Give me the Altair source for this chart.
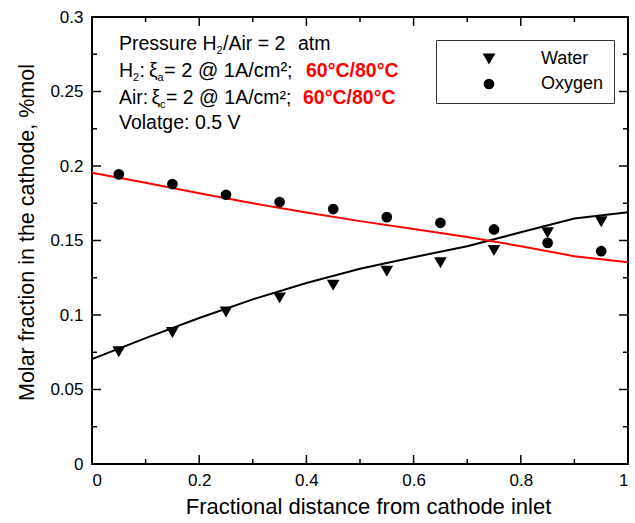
import altair as alt
import pandas as pd

# ---- data ----
x_pts = [0.05, 0.15, 0.25, 0.35, 0.45, 0.55, 0.65, 0.75, 0.85, 0.95]
water = [0.0753, 0.0883, 0.1020, 0.1115, 0.1200, 0.1294, 0.1350, 0.1433, 0.1552, 0.1626]
oxygen = [0.1944, 0.1879, 0.1807, 0.1758, 0.1711, 0.1657, 0.1619, 0.1574, 0.1484, 0.1428]

x_line = [0.0, 0.1, 0.2, 0.3, 0.4, 0.5, 0.6, 0.7, 0.8, 0.9, 1.0]
water_model = [0.0704, 0.0845, 0.0980, 0.1105, 0.1215, 0.1310, 0.1388, 0.1462, 0.1555, 0.1648, 0.1690]
oxygen_model = [0.1955, 0.1888, 0.1817, 0.1750, 0.1688, 0.1630, 0.1577, 0.1524, 0.1462, 0.1395, 0.1354]

x_ticks = [0, 0.2, 0.4, 0.6, 0.8, 1]
y_ticks = [0, 0.05, 0.1, 0.15, 0.2, 0.25, 0.3]
x_major = [0.2, 0.4, 0.6, 0.8]
x_minor = [0.1, 0.3, 0.5, 0.7, 0.9]
y_major = [0.05, 0.1, 0.15, 0.2, 0.25]
y_minor = [0.025, 0.075, 0.125, 0.175, 0.225, 0.275]

series = ["Water", "Oxygen"]

W, H = 536, 447
FONT = "Liberation Sans"

pts = pd.DataFrame({
    "x": x_pts * 2,
    "y": water + oxygen,
    "series": ["Water"] * len(x_pts) + ["Oxygen"] * len(x_pts),
})
wline = pd.DataFrame({"x": x_line, "y": water_model})
oline = pd.DataFrame({"x": x_line, "y": oxygen_model})

xs = alt.Scale(domain=[0, 1], nice=False)
ys = alt.Scale(domain=[0, 0.3], nice=False)

base_x = alt.X("x:Q", scale=xs, axis=alt.Axis(
    values=x_ticks, format="~g", title="Fractional distance from cathode inlet",
    titleX=276, titleY=49, titleBaseline="alphabetic", titleAnchor="middle",
    titleFontSize=22))
base_y = alt.Y("y:Q", scale=ys, axis=alt.Axis(
    values=y_ticks, format="~g", title="Molar fraction in the cathode, %mol",
    titleX=-59, titleY=215, titleBaseline="alphabetic", titleFontSize=21.5))

line_w = alt.Chart(wline).mark_line(color="black", strokeWidth=2).encode(x=base_x, y=base_y)
line_o = alt.Chart(oline).mark_line(color="#ff0000", strokeWidth=2).encode(x="x:Q", y="y:Q")

points = alt.Chart(pts).mark_point(filled=True, opacity=1, color="black").encode(
    x="x:Q", y="y:Q",
    shape=alt.Shape("series:N", scale=alt.Scale(domain=series, range=["triangle-down", "circle"]),
                    legend=alt.Legend(title=None)),
    size=alt.Size("series:N", scale=alt.Scale(domain=series, range=[160, 115]),
                  legend=alt.Legend(title=None)),
)

# inward ticks
def xticks(vals, length):
    df = pd.DataFrame({"x": vals})
    b = alt.Chart(df).mark_rule(color="black", strokeWidth=1.5).encode(
        x="x:Q", y=alt.value(H), y2=alt.value(H - length))
    t = alt.Chart(df).mark_rule(color="black", strokeWidth=1.5).encode(
        x="x:Q", y=alt.value(0), y2=alt.value(length))
    return [b, t]

def yticks(vals, length):
    df = pd.DataFrame({"y": vals})
    l = alt.Chart(df).mark_rule(color="black", strokeWidth=1.5).encode(
        y="y:Q", x=alt.value(0), x2=alt.value(length))
    r = alt.Chart(df).mark_rule(color="black", strokeWidth=1.5).encode(
        y="y:Q", x=alt.value(W), x2=alt.value(W - length))
    return [l, r]

ticks = xticks(x_major, 9) + xticks(x_minor, 5) + yticks(y_major, 9) + yticks(y_minor, 5)

# annotation pieces (text and layout kept apart from the data)
ann_text = ["Pressure H", "2", "/Air = 2", "atm",
            "H", "2", ":", "ξ", "a", "= 2 @ 1A/cm²;", "60°C/80°C",
            "Air:", "ξ", "c", "= 2 @ 1A/cm²;", "60°C/80°C",
            "Volatge: 0.5 V"]
L1, L2, L3, L4 = 27, 54, 80.5, 106
SUB = 7
ann_px = [27, 124.5, 131, 206,
          27, 41, 47.5, 57, 65.5, 72, 214,
          27, 59.5, 68, 74, 211,
          27]
ann_py = [L1, L1 + SUB, L1, L1,
          L2, L2 + SUB, L2, L2, L2 + SUB, L2, L2,
          L3, L3, L3 + SUB, L3, L3,
          L4]
ann_size = [19.5, 11, 19.5, 19.5,
            19.5, 11, 19.5, 19.5, 11, 20, 19.5,
            19.5, 19.5, 11, 19.5, 19.5,
            19.5]
ann_color = ["black"] * 10 + ["red"] + ["black"] * 4 + ["red"] + ["black"]
ann_weight = ["normal"] * 10 + ["bold"] + ["normal"] * 4 + ["bold"] + ["normal"]

ann = pd.DataFrame({"t": ann_text, "px": ann_px, "py": ann_py, "s": ann_size,
                    "c": ann_color, "w": ann_weight})

texts = []
for (c, w, s), g in ann.groupby(["c", "w", "s"]):
    texts.append(alt.Chart(g).mark_text(align="left", baseline="middle", font=FONT,
                                        fontSize=float(s), fontWeight=w, color=c).encode(
        x=alt.X("px:Q", scale=None), y=alt.Y("py:Q", scale=None), text="t:N"))

chart = alt.layer(line_w, line_o, points, *ticks, *texts).properties(
    width=W, height=H,
    autosize=alt.AutoSizeParams(type="none"),
    padding={"left": 92, "top": 17, "right": 7, "bottom": 59},
).configure_view(stroke="black", strokeWidth=2).configure_axis(
    ticks=False, domain=False, grid=False,
    labelFont=FONT, labelFontSize=17, labelColor="black",
    titleFont=FONT, titleFontWeight="normal", titleColor="black",
).configure_axisX(labelPadding=8).configure_axisY(labelPadding=9).configure_legend(
    orient="none", legendX=344, legendY=23,
    strokeColor="#333333", strokeWidth=1, fillColor="white",
    padding=10, symbolOffset=34, labelOffset=43, rowPadding=7,
    labelFont=FONT, labelFontSize=18, labelColor="black",
    symbolFillColor="black", symbolStrokeColor="black",
)

chart.save("out.html", embed_options={"renderer": "svg", "actions": False})
